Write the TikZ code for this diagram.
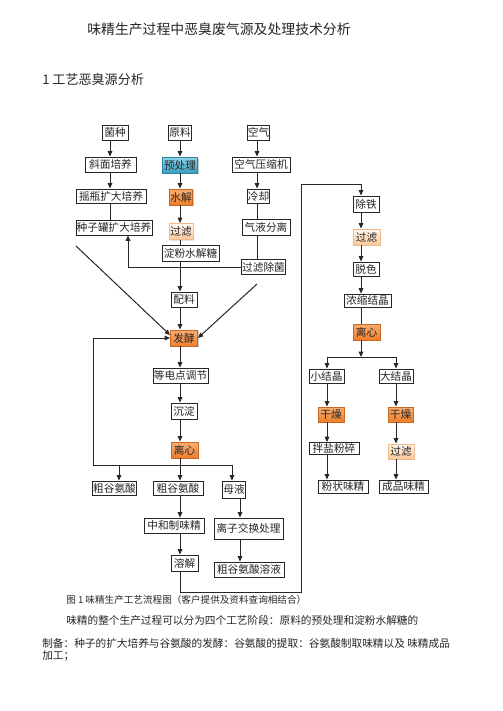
\documentclass[tikz,border=0pt]{standalone}
\usepackage{fontspec}
\setmainfont{Noto Sans CJK SC}
\usetikzlibrary{arrows.meta,shadows,calc}
\definecolor{ink}{HTML}{262626}
\definecolor{bluetop}{HTML}{8ED2E6}
\definecolor{bluebot}{HTML}{3A9FC0}
\definecolor{blueln}{HTML}{2C86A6}
\definecolor{ortop}{HTML}{F9AE72}
\definecolor{orbot}{HTML}{EE7E2C}
\definecolor{orln}{HTML}{C9661F}
\definecolor{lttop}{HTML}{FFF6EE}
\definecolor{ltbot}{HTML}{FAC89B}
\definecolor{ltln}{HTML}{F0B98A}
\tikzset{
  sz/.style 2 args={minimum width=#1*0.75pt, minimum height=#2*0.75pt},
  box/.style={draw=ink, line width=0.7pt, fill=white, inner sep=0.4pt, text=ink,
    font=\fontsize{8}{9}\selectfont},
  bluebox/.style={box, draw=blueln, top color=bluetop, bottom color=bluebot,
    drop shadow={shadow xshift=1pt, shadow yshift=-1pt, fill=black!35, opacity=0.6}},
  orbox/.style={box, draw=orln, top color=ortop, bottom color=orbot,
    drop shadow={shadow xshift=1pt, shadow yshift=-1pt, fill=black!35, opacity=0.6}},
  ltbox/.style={box, draw=ltln, top color=lttop, bottom color=ltbot,
    drop shadow={shadow xshift=1pt, shadow yshift=-1pt, fill=black!20, opacity=0.5}},
  ln/.style={line width=0.75pt, draw=ink},
  arr/.style={ln, -{Triangle[length=4pt,width=3.4pt]}},
  txt/.style={inner sep=0pt, anchor=west, text=ink}
}
\begin{document}
\begin{tikzpicture}[x=0.75pt,y=-0.75pt]
\useasboundingbox[fill=white] (0,0) rectangle (503,711);

% headings
\node[inner sep=0pt, text=ink, font=\fontsize{10.4}{12}\selectfont] (title) at (219,29) {味精生产过程中恶臭废气源及处理技术分析};
\node[txt, font=\fontsize{9.8}{12}\selectfont] (sec) at (42,80) {1 工艺恶臭源分析};

% spines
\coordinate (lsp) at (110,0);
\coordinate (spine) at (180,0);
\coordinate (asp) at (257,0);
\coordinate (zsx) at (128,0);
\coordinate (msp) at (240,0);
\coordinate (rsp) at (361,0);

% left column
\node[box, sz={26}{15}] (junzhong) at (115,132.5) {菌种};
\node[box, sz={51}{15}] (xiemian) at (110.5,164.5) {斜面培养};
\node[box, sz={70}{14}] (yaoping) at (111,196) {摇瓶扩大培养};
\node[box, sz={76}{15}] (zhongzi) at (114,227.5) {种子罐扩大培养};

% middle column
\node[box, sz={20}{15}] (yuanliao) at (180,132.5) {原料};
\node[bluebox, sz={35}{16}] (yuchuli) at (180,165) {预处理};
\node[orbox, sz={22}{16}] (shuijie) at (181,197) {水解};
\node[ltbox, sz={24}{16}] (guolv) at (181,231.5) {过滤};
\node[box, sz={57}{16}] (dianfen) at (190.5,253.5) {淀粉水解糖};
\node[box, sz={26}{15}] (peiliao) at (184,299.5) {配料};
\node[orbox, sz={27}{16}] (fajiao) at (184,338) {发酵};
\node[box, sz={55}{15}] (dengdian) at (180.5,375.5) {等电点调节};
\node[box, sz={26}{16}] (chendian) at (184,411) {沉淀};
\node[orbox, sz={27}{16}] (lixin) at (184.5,450) {离心};
\node[box, sz={43}{14}] (cgs1) at (114.5,488) {粗谷氨酸};
\node[box, sz={50}{14}] (cgs2) at (178,488) {粗谷氨酸};
\node[box, sz={22}{17}] (muye) at (234,489.5) {母液};
\node[box, sz={60}{15}] (zhonghe) at (174,525.5) {中和制味精};
\node[box, sz={69}{21}] (lizi) at (248.5,528.5) {离子交换处理};
\node[box, sz={27}{16}] (rongjie) at (184.5,563) {溶解};
\node[box, sz={70}{15}] (cgsry) at (249,569.5) {粗谷氨酸溶液};

% air column
\node[box, sz={21}{15}] (kongqi) at (258.5,132.5) {空气};
\node[box, sz={58}{15}] (yasuo) at (261,164.5) {空气压缩机};
\node[box, sz={21}{14}] (lengque) at (258.5,196) {冷却};
\node[box, sz={48}{16}] (qiye) at (266,227) {气液分离};
\node[box, sz={43}{15}] (glcj) at (263.5,267) {过滤除菌};

% right column
\node[box, sz={26}{16}] (chutie) at (366,204) {除铁};
\node[ltbox, sz={27}{16}] (guolv2) at (366.5,237) {过滤};
\node[box, sz={26}{14}] (tuose) at (366,269) {脱色};
\node[box, sz={47}{13}] (nongsuo) at (367.5,300.5) {浓缩结晶};
\node[orbox, sz={27}{16}] (lixin2) at (366.5,332) {离心};
\node[box, sz={35}{14}] (xiaojj) at (326.5,376) {小结晶};
\node[box, sz={34}{14}] (dajj) at (396,376) {大结晶};
\node[orbox, sz={26}{15}] (ganzao1) at (331,414.5) {干燥};
\node[orbox, sz={25}{15}] (ganzao2) at (400.5,414.5) {干燥};
\node[box, sz={50}{12}] (banyan) at (334,448.5) {拌盐粉碎};
\node[ltbox, sz={26}{15}] (guolv3) at (401,451.5) {过滤};
\node[box, sz={50}{13}] (fenzhuang) at (343,486.5) {粉状味精};
\node[box, sz={49}{13}] (chengpin) at (403.5,486.5) {成品味精};

% left column connectors
\draw[arr] (junzhong.south -| lsp) -- (xiemian.north -| lsp);
\draw[arr] (xiemian.south -| lsp) -- (yaoping.north -| lsp);
\draw[ln] (yaoping.south -| lsp) -- (zhongzi.north -| lsp);

% middle connectors
\draw[arr] (yuanliao.south -| spine) -- (yuchuli.north -| spine);
\draw[arr] (yuchuli.south -| spine) -- (shuijie.north -| spine);
\draw[arr] (shuijie.south -| spine) -- (guolv.north -| spine);
\draw[ln] (guolv.south -| spine) -- (dianfen.north -| spine);
\draw[arr] (dianfen.south -| spine) -- (peiliao.north -| spine);
\draw[arr] (peiliao.south -| spine) -- (fajiao.north -| spine);
\draw[arr] (fajiao.south -| spine) -- (dengdian.north -| spine);
\draw[arr] (dengdian.south -| spine) -- (chendian.north -| spine);
\draw[arr] (chendian.south -| spine) -- (lixin.north -| spine);
\draw[arr] (lixin.south -| spine) -- (cgs2.north -| spine);

% junction below centrifuge and recycle loop
\coordinate (jL) at (93,465);
\coordinate (j1) at (119,465);
\coordinate (jR) at (232,465);
\draw[ln] (jL) -- (jR);
\draw[arr] (jL) |- (fajiao.west);
\draw[arr] (j1) -- (cgs1.north -| j1);
\draw[arr] (jR) -- (muye.north -| jR);
\draw[arr] (muye.south -| msp) -- (lizi.north -| msp);
\draw[arr] (lizi.south -| msp) -- (cgsry.north -| msp);
\draw[arr] (cgs2.south -| spine) -- (zhonghe.north -| spine);
\draw[arr] (zhonghe.south -| spine) -- (rongjie.north -| spine);

% air connectors
\draw[arr] (kongqi.south -| asp) -- (yasuo.north -| asp);
\draw[arr] (yasuo.south -| asp) -- (lengque.north -| asp);
\draw[ln] (lengque.south -| asp) -- (qiye.north -| asp);
\draw[ln] (qiye.south -| asp) -- (glcj.north -| asp);
\draw[arr] (glcj.west) -| (zhongzi.south -| zsx);

% diagonals into fermentation
\coordinate (dl) at (76,246);
\coordinate (dr) at (257,284);
\draw[arr] (dl) -- ($(fajiao.west)+(0,-3)$);
\draw[arr] (dr) -- (fajiao.east);

% loop to refining
\coordinate (l1) at (180,592);
\coordinate (l2) at (301,592);
\coordinate (l3) at (301,184);
\coordinate (l4) at (361,184);
\draw[arr] (rongjie.south -| spine) -- (l1) -- (l2) -- (l3) -- (l4) -- (chutie.north -| l4);

% right column connectors
\draw[arr] (chutie.south -| rsp) -- (guolv2.north -| rsp);
\draw[arr] (guolv2.south -| rsp) -- (tuose.north -| rsp);
\draw[arr] (tuose.south -| rsp) -- (nongsuo.north -| rsp);
\draw[ln] (nongsuo.south -| rsp) -- (lixin2.north -| rsp);
\coordinate (k) at (361,357);
\coordinate (kL) at (327,357);
\coordinate (kR) at (396,357);
\draw[arr] (lixin2.south -| rsp) -- (k);
\draw[ln] (kL) -- (kR);
\draw[arr] (kL) -- (xiaojj.north -| kL);
\draw[arr] (kR) -- (dajj.north -| kR);
\draw[arr] (xiaojj.south -| kL) -- (ganzao1.north -| kL);
\draw[arr] (ganzao1.south -| kL) -- (banyan.north -| kL);
\draw[arr] (banyan.south -| kL) -- (fenzhuang.north -| kL);
\draw[arr] (dajj.south -| kR) -- (ganzao2.north -| kR);
\draw[arr] (ganzao2.south -| kR) -- (guolv3.north -| kR);
\draw[arr] (guolv3.south -| kR) -- (chengpin.north -| kR);

% caption and paragraph
\node[txt, font=\fontsize{7.2}{9}\selectfont] (cap) at (66,600) {图 1 味精生产工艺流程图（客户提供及资料查询相结合）};
\node[txt, font=\fontsize{8}{10}\selectfont] (p1) at (66,620) {味精的整个生产过程可以分为四个工艺阶段：原料的预处理和淀粉水解糖的};
\node[txt, font=\fontsize{8}{10}\selectfont] (p2) at (42,643) {制备：种子的扩大培养与谷氨酸的发酵：谷氨酸的提取：谷氨酸制取味精以及\ 味精成品};
\node[txt, font=\fontsize{8}{10}\selectfont] (p3) at (42,656) {加工；};
\end{tikzpicture}
\end{document}
